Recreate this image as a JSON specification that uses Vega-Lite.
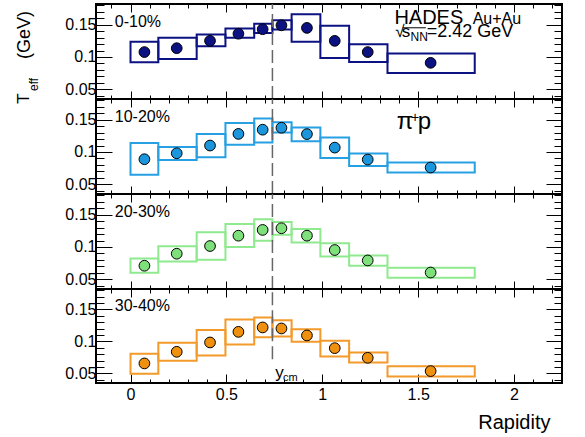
{
  "$schema": "https://vega.github.io/schema/vega-lite/v6.json",
  "padding": {"left": 14, "top": 2, "right": 20, "bottom": 5},
  "spacing": 0,
  "bounds": "flush",
  "config": {
    "view": {"stroke": "#000000", "strokeWidth": 2},
    "axis": {"grid": false, "domain": false, "labelFont": "Liberation Sans", "titleFont": "Liberation Sans", "labelColor": "#000000", "tickColor": "#000000", "titleColor": "#000000", "labelFontSize": 16, "tickWidth": 1},
    "text": {"font": "Liberation Sans"}
  },
  "datasets": {
    "pts": [
      {"c": "0-10%", "lo": 0, "hi": 0.145, "r": 0.0725, "T": 0.1076, "blo": 0.0918, "bhi": 0.1236},
      {"c": "0-10%", "lo": 0.145, "hi": 0.345, "r": 0.241, "T": 0.1136, "blo": 0.097, "bhi": 0.1297},
      {"c": "0-10%", "lo": 0.345, "hi": 0.495, "r": 0.4146, "T": 0.125, "blo": 0.1167, "bhi": 0.1348},
      {"c": "0-10%", "lo": 0.495, "hi": 0.645, "r": 0.5627, "T": 0.136, "blo": 0.1297, "bhi": 0.144},
      {"c": "0-10%", "lo": 0.645, "hi": 0.74, "r": 0.689, "T": 0.143, "blo": 0.1373, "bhi": 0.1515},
      {"c": "0-10%", "lo": 0.74, "hi": 0.84, "r": 0.787, "T": 0.149, "blo": 0.1424, "bhi": 0.157},
      {"c": "0-10%", "lo": 0.84, "hi": 0.99, "r": 0.92, "T": 0.145, "blo": 0.1236, "bhi": 0.166},
      {"c": "0-10%", "lo": 0.99, "hi": 1.14, "r": 1.065, "T": 0.125, "blo": 0.0985, "bhi": 0.1485},
      {"c": "0-10%", "lo": 1.14, "hi": 1.34, "r": 1.237, "T": 0.1076, "blo": 0.0924, "bhi": 0.1197},
      {"c": "0-10%", "lo": 1.34, "hi": 1.795, "r": 1.565, "T": 0.091, "blo": 0.0752, "bhi": 0.1055},
      {"c": "10-20%", "lo": 0, "hi": 0.145, "r": 0.0725, "T": 0.0888, "blo": 0.0646, "bhi": 0.1138},
      {"c": "10-20%", "lo": 0.145, "hi": 0.345, "r": 0.241, "T": 0.098, "blo": 0.0877, "bhi": 0.1077},
      {"c": "10-20%", "lo": 0.345, "hi": 0.495, "r": 0.4146, "T": 0.11, "blo": 0.0918, "bhi": 0.1277},
      {"c": "10-20%", "lo": 0.495, "hi": 0.645, "r": 0.5627, "T": 0.128, "blo": 0.1114, "bhi": 0.145},
      {"c": "10-20%", "lo": 0.645, "hi": 0.74, "r": 0.689, "T": 0.1345, "blo": 0.1145, "bhi": 0.1518},
      {"c": "10-20%", "lo": 0.74, "hi": 0.84, "r": 0.787, "T": 0.1375, "blo": 0.13, "bhi": 0.146},
      {"c": "10-20%", "lo": 0.84, "hi": 0.99, "r": 0.92, "T": 0.1277, "blo": 0.1165, "bhi": 0.138},
      {"c": "10-20%", "lo": 0.99, "hi": 1.14, "r": 1.065, "T": 0.1068, "blo": 0.0908, "bhi": 0.1226},
      {"c": "10-20%", "lo": 1.14, "hi": 1.34, "r": 1.237, "T": 0.0883, "blo": 0.0785, "bhi": 0.0975},
      {"c": "10-20%", "lo": 1.34, "hi": 1.795, "r": 1.565, "T": 0.076, "blo": 0.0683, "bhi": 0.0837},
      {"c": "20-30%", "lo": 0, "hi": 0.145, "r": 0.0725, "T": 0.071, "blo": 0.06, "bhi": 0.0823},
      {"c": "20-30%", "lo": 0.145, "hi": 0.345, "r": 0.241, "T": 0.0896, "blo": 0.0776, "bhi": 0.101},
      {"c": "20-30%", "lo": 0.345, "hi": 0.495, "r": 0.4146, "T": 0.1015, "blo": 0.0803, "bhi": 0.1227},
      {"c": "20-30%", "lo": 0.495, "hi": 0.645, "r": 0.5627, "T": 0.1175, "blo": 0.1, "bhi": 0.1357},
      {"c": "20-30%", "lo": 0.645, "hi": 0.74, "r": 0.689, "T": 0.1264, "blo": 0.1098, "bhi": 0.143},
      {"c": "20-30%", "lo": 0.74, "hi": 0.84, "r": 0.787, "T": 0.129, "blo": 0.119, "bhi": 0.1388},
      {"c": "20-30%", "lo": 0.84, "hi": 0.99, "r": 0.92, "T": 0.1175, "blo": 0.107, "bhi": 0.128},
      {"c": "20-30%", "lo": 0.99, "hi": 1.14, "r": 1.065, "T": 0.0953, "blo": 0.0854, "bhi": 0.1056},
      {"c": "20-30%", "lo": 1.14, "hi": 1.34, "r": 1.237, "T": 0.0792, "blo": 0.071, "bhi": 0.087},
      {"c": "20-30%", "lo": 1.34, "hi": 1.795, "r": 1.565, "T": 0.0605, "blo": 0.0523, "bhi": 0.0679},
      {"c": "30-40%", "lo": 0, "hi": 0.145, "r": 0.0725, "T": 0.0656, "blo": 0.0494, "bhi": 0.0806},
      {"c": "30-40%", "lo": 0.145, "hi": 0.345, "r": 0.241, "T": 0.0838, "blo": 0.0697, "bhi": 0.0978},
      {"c": "30-40%", "lo": 0.345, "hi": 0.495, "r": 0.4146, "T": 0.0984, "blo": 0.0781, "bhi": 0.118},
      {"c": "30-40%", "lo": 0.495, "hi": 0.645, "r": 0.5627, "T": 0.115, "blo": 0.0953, "bhi": 0.1344},
      {"c": "30-40%", "lo": 0.645, "hi": 0.74, "r": 0.689, "T": 0.1219, "blo": 0.1067, "bhi": 0.1375},
      {"c": "30-40%", "lo": 0.74, "hi": 0.84, "r": 0.787, "T": 0.1203, "blo": 0.1078, "bhi": 0.1333},
      {"c": "30-40%", "lo": 0.84, "hi": 0.99, "r": 0.92, "T": 0.1094, "blo": 0.0994, "bhi": 0.119},
      {"c": "30-40%", "lo": 0.99, "hi": 1.14, "r": 1.065, "T": 0.0895, "blo": 0.0766, "bhi": 0.101},
      {"c": "30-40%", "lo": 1.14, "hi": 1.34, "r": 1.237, "T": 0.0744, "blo": 0.0672, "bhi": 0.0828},
      {"c": "30-40%", "lo": 1.34, "hi": 1.795, "r": 1.565, "T": 0.0536, "blo": 0.0453, "bhi": 0.061}
    ]
  },
  "vconcat": [
    {
      "width": 466, "height": 95,
      "resolve": {"axis": {"x": "independent", "y": "independent"}},
      "layer": [
        {"data": {"name": "pts"}, "transform": [{"filter": "datum.c == '0-10%'"}],
         "mark": {"type": "rect", "fill": "transparent", "stroke": "#0c1282", "strokeWidth": 2},
         "encoding": {
           "x": {"field": "lo", "type": "quantitative", "scale": {"domain": [-0.18, 2.25], "nice": false, "zero": false}, "axis": {"orient": "bottom", "labels": false, "tickSize": 8, "offset": -8, "values": [0, 0.5, 1, 1.5, 2], "title": null}},
           "x2": {"field": "hi"},
           "y": {"field": "blo", "type": "quantitative", "scale": {"domain": [0.035, 0.182], "nice": false, "zero": false}, "axis": {"orient": "left", "ticks": false, "tickSize": 0, "values": [0.05, 0.1, 0.15], "format": "~g", "labelPadding": 0, "title": null}},
           "y2": {"field": "bhi"}}},
        {"data": {"name": "pts"}, "transform": [{"filter": "datum.c == '0-10%'"}],
         "mark": {"type": "circle", "size": 115, "fill": "#0c1282", "stroke": "#000000", "strokeWidth": 1, "opacity": 1},
         "encoding": {
           "x": {"field": "r", "type": "quantitative", "scale": {"domain": [-0.18, 2.25], "nice": false, "zero": false}, "axis": {"orient": "top", "labels": false, "tickSize": 8, "offset": -8, "values": [0, 0.5, 1, 1.5, 2], "title": null}},
           "y": {"field": "T", "type": "quantitative", "scale": {"domain": [0.035, 0.182], "nice": false, "zero": false}, "axis": {"orient": "left", "labels": false, "tickSize": 16, "offset": -16, "values": [0.05, 0.1, 0.15], "title": null}}}},
        {"data": {"values": [{}]},
         "mark": {"type": "rule", "color": "#666666", "strokeWidth": 1.5, "strokeDash": [13, 5]},
         "encoding": {
           "x": {"datum": 0.74, "type": "quantitative", "scale": {"domain": [-0.18, 2.25], "nice": false, "zero": false}, "axis": {"orient": "bottom", "labels": false, "tickSize": 4, "offset": -4, "values": [-0.1, 0, 0.1, 0.2, 0.3, 0.4, 0.5, 0.6, 0.7, 0.8, 0.9, 1, 1.1, 1.2, 1.3, 1.4, 1.5, 1.6, 1.7, 1.8, 1.9, 2, 2.1, 2.2], "title": null}},
           "y": {"datum": 0.035, "type": "quantitative", "scale": {"domain": [0.035, 0.182], "nice": false, "zero": false}, "axis": {"orient": "left", "labels": false, "tickSize": 8, "offset": -8, "values": [0.04, 0.05, 0.06, 0.07, 0.08, 0.09, 0.1, 0.11, 0.12, 0.13, 0.14, 0.15, 0.16, 0.17, 0.18], "title": null}},
           "y2": {"datum": 0.182}}},
        {"data": {"values": [{}]},
         "mark": {"type": "text", "align": "left", "baseline": "alphabetic", "fontSize": 16, "color": "#000000"},
         "encoding": {
           "x": {"datum": -0.082, "type": "quantitative", "scale": {"domain": [-0.18, 2.25], "nice": false, "zero": false}, "axis": {"orient": "top", "labels": false, "tickSize": 4, "offset": -4, "values": [-0.1, 0, 0.1, 0.2, 0.3, 0.4, 0.5, 0.6, 0.7, 0.8, 0.9, 1, 1.1, 1.2, 1.3, 1.4, 1.5, 1.6, 1.7, 1.8, 1.9, 2, 2.1, 2.2], "title": null}},
           "y": {"datum": 0.147, "type": "quantitative", "scale": {"domain": [0.035, 0.182], "nice": false, "zero": false}, "axis": {"orient": "right", "labels": false, "tickSize": 16, "offset": -16, "values": [0.05, 0.1, 0.15], "title": null}},
           "text": {"value": "0-10%"}}},
        {"data": {"values": [{}]},
         "mark": {"type": "text", "align": "left", "baseline": "alphabetic", "fontSize": 20, "color": "#000000"},
         "encoding": {
           "x": {"datum": 1.376, "type": "quantitative", "scale": {"domain": [-0.18, 2.25], "nice": false, "zero": false}, "axis": null},
           "y": {"datum": 0.1508, "type": "quantitative", "scale": {"domain": [0.035, 0.182], "nice": false, "zero": false}, "axis": {"orient": "right", "labels": false, "tickSize": 8, "offset": -8, "values": [0.04, 0.05, 0.06, 0.07, 0.08, 0.09, 0.1, 0.11, 0.12, 0.13, 0.14, 0.15, 0.16, 0.17, 0.18], "title": null}},
           "text": {"value": "HADES"}}},
        {"data": {"values": [{}]},
         "mark": {"type": "text", "align": "left", "baseline": "alphabetic", "fontSize": 16, "color": "#000000"},
         "encoding": {
           "x": {"datum": 1.784, "type": "quantitative", "scale": {"domain": [-0.18, 2.25], "nice": false, "zero": false}, "axis": null},
           "y": {"datum": 0.1508, "type": "quantitative", "scale": {"domain": [0.035, 0.182], "nice": false, "zero": false}, "axis": null},
           "text": {"value": "Au+Au"}}},
        {"data": {"values": [{}]},
         "mark": {"type": "text", "align": "left", "baseline": "alphabetic", "fontSize": 17, "color": "#000000"},
         "encoding": {
           "x": {"datum": 1.38, "type": "quantitative", "scale": {"domain": [-0.18, 2.25], "nice": false, "zero": false}, "axis": null},
           "y": {"datum": 0.1312, "type": "quantitative", "scale": {"domain": [0.035, 0.182], "nice": false, "zero": false}, "axis": null},
           "text": {"value": "√"}}},
        {"data": {"values": [{}]},
         "mark": {"type": "text", "align": "left", "baseline": "alphabetic", "fontSize": 17, "color": "#000000"},
         "encoding": {
           "x": {"datum": 1.414, "type": "quantitative", "scale": {"domain": [-0.18, 2.25], "nice": false, "zero": false}, "axis": null},
           "y": {"datum": 0.1312, "type": "quantitative", "scale": {"domain": [0.035, 0.182], "nice": false, "zero": false}, "axis": null},
           "text": {"value": "s"}}},
        {"data": {"values": [{}]},
         "mark": {"type": "text", "align": "left", "baseline": "alphabetic", "fontSize": 12, "color": "#000000"},
         "encoding": {
           "x": {"datum": 1.46, "type": "quantitative", "scale": {"domain": [-0.18, 2.25], "nice": false, "zero": false}, "axis": null},
           "y": {"datum": 0.1255, "type": "quantitative", "scale": {"domain": [0.035, 0.182], "nice": false, "zero": false}, "axis": null},
           "text": {"value": "NN"}}},
        {"data": {"values": [{}]},
         "mark": {"type": "text", "align": "left", "baseline": "alphabetic", "fontSize": 18, "color": "#000000"},
         "encoding": {
           "x": {"datum": 1.545, "type": "quantitative", "scale": {"domain": [-0.18, 2.25], "nice": false, "zero": false}, "axis": null},
           "y": {"datum": 0.1312, "type": "quantitative", "scale": {"domain": [0.035, 0.182], "nice": false, "zero": false}, "axis": null},
           "text": {"value": "=2.42 GeV"}}},
        {"data": {"values": [{}]},
         "mark": {"type": "rule", "color": "#000000", "strokeWidth": 1},
         "encoding": {
           "x": {"datum": 1.42, "type": "quantitative", "scale": {"domain": [-0.18, 2.25], "nice": false, "zero": false}, "axis": null},
           "x2": {"datum": 1.54},
           "y": {"datum": 0.1452, "type": "quantitative", "scale": {"domain": [0.035, 0.182], "nice": false, "zero": false}, "axis": null}}},
        {"data": {"values": [{}]},
         "mark": {"type": "text", "align": "left", "baseline": "alphabetic", "fontSize": 17, "angle": 270, "color": "#000000"},
         "encoding": {
           "x": {"datum": -0.528, "type": "quantitative", "scale": {"domain": [-0.18, 2.25], "nice": false, "zero": false}, "axis": null},
           "y": {"datum": 0.0275, "type": "quantitative", "scale": {"domain": [0.035, 0.182], "nice": false, "zero": false}, "axis": null},
           "text": {"value": "T"}}},
        {"data": {"values": [{}]},
         "mark": {"type": "text", "align": "left", "baseline": "alphabetic", "fontSize": 12, "angle": 270, "color": "#000000"},
         "encoding": {
           "x": {"datum": -0.481, "type": "quantitative", "scale": {"domain": [-0.18, 2.25], "nice": false, "zero": false}, "axis": null},
           "y": {"datum": 0.0475, "type": "quantitative", "scale": {"domain": [0.035, 0.182], "nice": false, "zero": false}, "axis": null},
           "text": {"value": "eff"}}},
        {"data": {"values": [{}]},
         "mark": {"type": "text", "align": "left", "baseline": "alphabetic", "fontSize": 18, "angle": 270, "color": "#000000"},
         "encoding": {
           "x": {"datum": -0.525, "type": "quantitative", "scale": {"domain": [-0.18, 2.25], "nice": false, "zero": false}, "axis": null},
           "y": {"datum": 0.097, "type": "quantitative", "scale": {"domain": [0.035, 0.182], "nice": false, "zero": false}, "axis": null},
           "text": {"value": "(GeV)"}}}
      ]
    },
    {
      "width": 466, "height": 95,
      "resolve": {"axis": {"x": "independent", "y": "independent"}},
      "layer": [
        {"data": {"name": "pts"}, "transform": [{"filter": "datum.c == '10-20%'"}],
         "mark": {"type": "rect", "fill": "transparent", "stroke": "#26a0e2", "strokeWidth": 2},
         "encoding": {
           "x": {"field": "lo", "type": "quantitative", "scale": {"domain": [-0.18, 2.25], "nice": false, "zero": false}, "axis": {"orient": "bottom", "labels": false, "tickSize": 8, "offset": -8, "values": [0, 0.5, 1, 1.5, 2], "title": null}},
           "x2": {"field": "hi"},
           "y": {"field": "blo", "type": "quantitative", "scale": {"domain": [0.035, 0.182], "nice": false, "zero": false}, "axis": {"orient": "left", "ticks": false, "tickSize": 0, "values": [0.05, 0.1, 0.15], "format": "~g", "labelPadding": 0, "title": null}},
           "y2": {"field": "bhi"}}},
        {"data": {"name": "pts"}, "transform": [{"filter": "datum.c == '10-20%'"}],
         "mark": {"type": "circle", "size": 115, "fill": "#1b96dc", "stroke": "#000000", "strokeWidth": 1, "opacity": 1},
         "encoding": {
           "x": {"field": "r", "type": "quantitative", "scale": {"domain": [-0.18, 2.25], "nice": false, "zero": false}, "axis": {"orient": "top", "labels": false, "tickSize": 8, "offset": -8, "values": [0, 0.5, 1, 1.5, 2], "title": null}},
           "y": {"field": "T", "type": "quantitative", "scale": {"domain": [0.035, 0.182], "nice": false, "zero": false}, "axis": {"orient": "left", "labels": false, "tickSize": 16, "offset": -16, "values": [0.05, 0.1, 0.15], "title": null}}}},
        {"data": {"values": [{}]},
         "mark": {"type": "rule", "color": "#666666", "strokeWidth": 1.5, "strokeDash": [13, 5]},
         "encoding": {
           "x": {"datum": 0.74, "type": "quantitative", "scale": {"domain": [-0.18, 2.25], "nice": false, "zero": false}, "axis": {"orient": "bottom", "labels": false, "tickSize": 4, "offset": -4, "values": [-0.1, 0, 0.1, 0.2, 0.3, 0.4, 0.5, 0.6, 0.7, 0.8, 0.9, 1, 1.1, 1.2, 1.3, 1.4, 1.5, 1.6, 1.7, 1.8, 1.9, 2, 2.1, 2.2], "title": null}},
           "y": {"datum": 0.035, "type": "quantitative", "scale": {"domain": [0.035, 0.182], "nice": false, "zero": false}, "axis": {"orient": "left", "labels": false, "tickSize": 8, "offset": -8, "values": [0.04, 0.05, 0.06, 0.07, 0.08, 0.09, 0.1, 0.11, 0.12, 0.13, 0.14, 0.15, 0.16, 0.17, 0.18], "title": null}},
           "y2": {"datum": 0.182}}},
        {"data": {"values": [{}]},
         "mark": {"type": "text", "align": "left", "baseline": "alphabetic", "fontSize": 16, "color": "#000000"},
         "encoding": {
           "x": {"datum": -0.082, "type": "quantitative", "scale": {"domain": [-0.18, 2.25], "nice": false, "zero": false}, "axis": {"orient": "top", "labels": false, "tickSize": 4, "offset": -4, "values": [-0.1, 0, 0.1, 0.2, 0.3, 0.4, 0.5, 0.6, 0.7, 0.8, 0.9, 1, 1.1, 1.2, 1.3, 1.4, 1.5, 1.6, 1.7, 1.8, 1.9, 2, 2.1, 2.2], "title": null}},
           "y": {"datum": 0.147, "type": "quantitative", "scale": {"domain": [0.035, 0.182], "nice": false, "zero": false}, "axis": {"orient": "right", "labels": false, "tickSize": 16, "offset": -16, "values": [0.05, 0.1, 0.15], "title": null}},
           "text": {"value": "10-20%"}}},
        {"data": {"values": [{}]},
         "mark": {"type": "text", "align": "left", "baseline": "alphabetic", "fontSize": 24, "color": "#000000"},
         "encoding": {
           "x": {"datum": 1.388, "type": "quantitative", "scale": {"domain": [-0.18, 2.25], "nice": false, "zero": false}, "axis": null},
           "y": {"datum": 0.1356, "type": "quantitative", "scale": {"domain": [0.035, 0.182], "nice": false, "zero": false}, "axis": {"orient": "right", "labels": false, "tickSize": 8, "offset": -8, "values": [0.04, 0.05, 0.06, 0.07, 0.08, 0.09, 0.1, 0.11, 0.12, 0.13, 0.14, 0.15, 0.16, 0.17, 0.18], "title": null}},
           "text": {"value": "π"}}},
        {"data": {"values": [{}]},
         "mark": {"type": "text", "align": "left", "baseline": "alphabetic", "fontSize": 14, "color": "#000000"},
         "encoding": {
           "x": {"datum": 1.463, "type": "quantitative", "scale": {"domain": [-0.18, 2.25], "nice": false, "zero": false}, "axis": null},
           "y": {"datum": 0.1465, "type": "quantitative", "scale": {"domain": [0.035, 0.182], "nice": false, "zero": false}, "axis": null},
           "text": {"value": "+"}}},
        {"data": {"values": [{}]},
         "mark": {"type": "text", "align": "left", "baseline": "alphabetic", "fontSize": 24, "color": "#000000"},
         "encoding": {
           "x": {"datum": 1.498, "type": "quantitative", "scale": {"domain": [-0.18, 2.25], "nice": false, "zero": false}, "axis": null},
           "y": {"datum": 0.1356, "type": "quantitative", "scale": {"domain": [0.035, 0.182], "nice": false, "zero": false}, "axis": null},
           "text": {"value": "p"}}}
      ]
    },
    {
      "width": 466, "height": 95,
      "resolve": {"axis": {"x": "independent", "y": "independent"}},
      "layer": [
        {"data": {"name": "pts"}, "transform": [{"filter": "datum.c == '20-30%'"}],
         "mark": {"type": "rect", "fill": "transparent", "stroke": "#8fe98f", "strokeWidth": 2},
         "encoding": {
           "x": {"field": "lo", "type": "quantitative", "scale": {"domain": [-0.18, 2.25], "nice": false, "zero": false}, "axis": {"orient": "bottom", "labels": false, "tickSize": 8, "offset": -8, "values": [0, 0.5, 1, 1.5, 2], "title": null}},
           "x2": {"field": "hi"},
           "y": {"field": "blo", "type": "quantitative", "scale": {"domain": [0.035, 0.182], "nice": false, "zero": false}, "axis": {"orient": "left", "ticks": false, "tickSize": 0, "values": [0.05, 0.1, 0.15], "format": "~g", "labelPadding": 0, "title": null}},
           "y2": {"field": "bhi"}}},
        {"data": {"name": "pts"}, "transform": [{"filter": "datum.c == '20-30%'"}],
         "mark": {"type": "circle", "size": 115, "fill": "#7ee07b", "stroke": "#000000", "strokeWidth": 1, "opacity": 1},
         "encoding": {
           "x": {"field": "r", "type": "quantitative", "scale": {"domain": [-0.18, 2.25], "nice": false, "zero": false}, "axis": {"orient": "top", "labels": false, "tickSize": 8, "offset": -8, "values": [0, 0.5, 1, 1.5, 2], "title": null}},
           "y": {"field": "T", "type": "quantitative", "scale": {"domain": [0.035, 0.182], "nice": false, "zero": false}, "axis": {"orient": "left", "labels": false, "tickSize": 16, "offset": -16, "values": [0.05, 0.1, 0.15], "title": null}}}},
        {"data": {"values": [{}]},
         "mark": {"type": "rule", "color": "#666666", "strokeWidth": 1.5, "strokeDash": [13, 5]},
         "encoding": {
           "x": {"datum": 0.74, "type": "quantitative", "scale": {"domain": [-0.18, 2.25], "nice": false, "zero": false}, "axis": {"orient": "bottom", "labels": false, "tickSize": 4, "offset": -4, "values": [-0.1, 0, 0.1, 0.2, 0.3, 0.4, 0.5, 0.6, 0.7, 0.8, 0.9, 1, 1.1, 1.2, 1.3, 1.4, 1.5, 1.6, 1.7, 1.8, 1.9, 2, 2.1, 2.2], "title": null}},
           "y": {"datum": 0.035, "type": "quantitative", "scale": {"domain": [0.035, 0.182], "nice": false, "zero": false}, "axis": {"orient": "left", "labels": false, "tickSize": 8, "offset": -8, "values": [0.04, 0.05, 0.06, 0.07, 0.08, 0.09, 0.1, 0.11, 0.12, 0.13, 0.14, 0.15, 0.16, 0.17, 0.18], "title": null}},
           "y2": {"datum": 0.182}}},
        {"data": {"values": [{}]},
         "mark": {"type": "text", "align": "left", "baseline": "alphabetic", "fontSize": 16, "color": "#000000"},
         "encoding": {
           "x": {"datum": -0.082, "type": "quantitative", "scale": {"domain": [-0.18, 2.25], "nice": false, "zero": false}, "axis": {"orient": "top", "labels": false, "tickSize": 4, "offset": -4, "values": [-0.1, 0, 0.1, 0.2, 0.3, 0.4, 0.5, 0.6, 0.7, 0.8, 0.9, 1, 1.1, 1.2, 1.3, 1.4, 1.5, 1.6, 1.7, 1.8, 1.9, 2, 2.1, 2.2], "title": null}},
           "y": {"datum": 0.147, "type": "quantitative", "scale": {"domain": [0.035, 0.182], "nice": false, "zero": false}, "axis": {"orient": "right", "labels": false, "tickSize": 16, "offset": -16, "values": [0.05, 0.1, 0.15], "title": null}},
           "text": {"value": "20-30%"}}},
        {"data": {"values": [{}]},
         "mark": {"type": "text", "align": "left", "baseline": "alphabetic", "fontSize": 16, "color": "#000000"},
         "encoding": {
           "x": {"datum": -0.082, "type": "quantitative", "scale": {"domain": [-0.18, 2.25], "nice": false, "zero": false}, "axis": null},
           "y": {"datum": 0.147, "type": "quantitative", "scale": {"domain": [0.035, 0.182], "nice": false, "zero": false}, "axis": {"orient": "right", "labels": false, "tickSize": 8, "offset": -8, "values": [0.04, 0.05, 0.06, 0.07, 0.08, 0.09, 0.1, 0.11, 0.12, 0.13, 0.14, 0.15, 0.16, 0.17, 0.18], "title": null}},
           "text": {"value": ""}}}
      ]
    },
    {
      "width": 466, "height": 94,
      "resolve": {"axis": {"x": "independent", "y": "independent"}},
      "layer": [
        {"data": {"name": "pts"}, "transform": [{"filter": "datum.c == '30-40%'"}],
         "mark": {"type": "rect", "fill": "transparent", "stroke": "#f39a2a", "strokeWidth": 2},
         "encoding": {
           "x": {"field": "lo", "type": "quantitative", "scale": {"domain": [-0.18, 2.25], "nice": false, "zero": false}, "axis": {"orient": "bottom", "labels": false, "tickSize": 9, "offset": -9, "values": [0, 0.5, 1, 1.5, 2], "title": null}},
           "x2": {"field": "hi"},
           "y": {"field": "blo", "type": "quantitative", "scale": {"domain": [0.035, 0.182], "nice": false, "zero": false}, "axis": {"orient": "left", "ticks": false, "tickSize": 0, "values": [0.05, 0.1, 0.15], "format": "~g", "labelPadding": 0, "title": null}},
           "y2": {"field": "bhi"}}},
        {"data": {"name": "pts"}, "transform": [{"filter": "datum.c == '30-40%'"}],
         "mark": {"type": "circle", "size": 115, "fill": "#f0900f", "stroke": "#000000", "strokeWidth": 1, "opacity": 1},
         "encoding": {
           "x": {"field": "r", "type": "quantitative", "scale": {"domain": [-0.18, 2.25], "nice": false, "zero": false}, "axis": {"orient": "top", "labels": false, "tickSize": 8, "offset": -8, "values": [0, 0.5, 1, 1.5, 2], "title": null}},
           "y": {"field": "T", "type": "quantitative", "scale": {"domain": [0.035, 0.182], "nice": false, "zero": false}, "axis": {"orient": "left", "labels": false, "tickSize": 16, "offset": -16, "values": [0.05, 0.1, 0.15], "title": null}}}},
        {"data": {"values": [{}]},
         "mark": {"type": "rule", "color": "#666666", "strokeWidth": 1.5, "strokeDash": [13, 5]},
         "encoding": {
           "x": {"datum": 0.74, "type": "quantitative", "scale": {"domain": [-0.18, 2.25], "nice": false, "zero": false}, "axis": {"orient": "bottom", "labels": false, "tickSize": 4, "offset": -4, "values": [-0.1, 0, 0.1, 0.2, 0.3, 0.4, 0.5, 0.6, 0.7, 0.8, 0.9, 1, 1.1, 1.2, 1.3, 1.4, 1.5, 1.6, 1.7, 1.8, 1.9, 2, 2.1, 2.2], "title": null}},
           "y": {"datum": 0.072, "type": "quantitative", "scale": {"domain": [0.035, 0.182], "nice": false, "zero": false}, "axis": {"orient": "left", "labels": false, "tickSize": 8, "offset": -8, "values": [0.04, 0.05, 0.06, 0.07, 0.08, 0.09, 0.1, 0.11, 0.12, 0.13, 0.14, 0.15, 0.16, 0.17, 0.18], "title": null}},
           "y2": {"datum": 0.182}}},
        {"data": {"values": [{}]},
         "mark": {"type": "text", "align": "left", "baseline": "alphabetic", "fontSize": 16, "color": "#000000"},
         "encoding": {
           "x": {"datum": -0.082, "type": "quantitative", "scale": {"domain": [-0.18, 2.25], "nice": false, "zero": false}, "axis": {"orient": "top", "labels": false, "tickSize": 4, "offset": -4, "values": [-0.1, 0, 0.1, 0.2, 0.3, 0.4, 0.5, 0.6, 0.7, 0.8, 0.9, 1, 1.1, 1.2, 1.3, 1.4, 1.5, 1.6, 1.7, 1.8, 1.9, 2, 2.1, 2.2], "title": null}},
           "y": {"datum": 0.147, "type": "quantitative", "scale": {"domain": [0.035, 0.182], "nice": false, "zero": false}, "axis": {"orient": "right", "labels": false, "tickSize": 16, "offset": -16, "values": [0.05, 0.1, 0.15], "title": null}},
           "text": {"value": "30-40%"}}},
        {"data": {"values": [{}]},
         "mark": {"type": "text", "align": "left", "baseline": "alphabetic", "fontSize": 17, "color": "#000000"},
         "encoding": {
           "x": {"datum": 0.755, "type": "quantitative", "scale": {"domain": [-0.18, 2.25], "nice": false, "zero": false}, "axis": {"orient": "bottom", "ticks": false, "tickSize": 0, "values": [0, 0.5, 1, 1.5, 2], "format": "~g", "labelPadding": 3, "title": "Rapidity", "titleFontSize": 20, "titleFontWeight": "normal", "titleAlign": "right", "titleX": 454, "titlePadding": 10}},
           "y": {"datum": 0.0428, "type": "quantitative", "scale": {"domain": [0.035, 0.182], "nice": false, "zero": false}, "axis": {"orient": "right", "labels": false, "tickSize": 8, "offset": -8, "values": [0.04, 0.05, 0.06, 0.07, 0.08, 0.09, 0.1, 0.11, 0.12, 0.13, 0.14, 0.15, 0.16, 0.17, 0.18], "title": null}},
           "text": {"value": "y"}}},
        {"data": {"values": [{}]},
         "mark": {"type": "text", "align": "left", "baseline": "alphabetic", "fontSize": 11, "color": "#000000"},
         "encoding": {
           "x": {"datum": 0.795, "type": "quantitative", "scale": {"domain": [-0.18, 2.25], "nice": false, "zero": false}, "axis": null},
           "y": {"datum": 0.038, "type": "quantitative", "scale": {"domain": [0.035, 0.182], "nice": false, "zero": false}, "axis": null},
           "text": {"value": "cm"}}}
      ]
    }
  ]
}
